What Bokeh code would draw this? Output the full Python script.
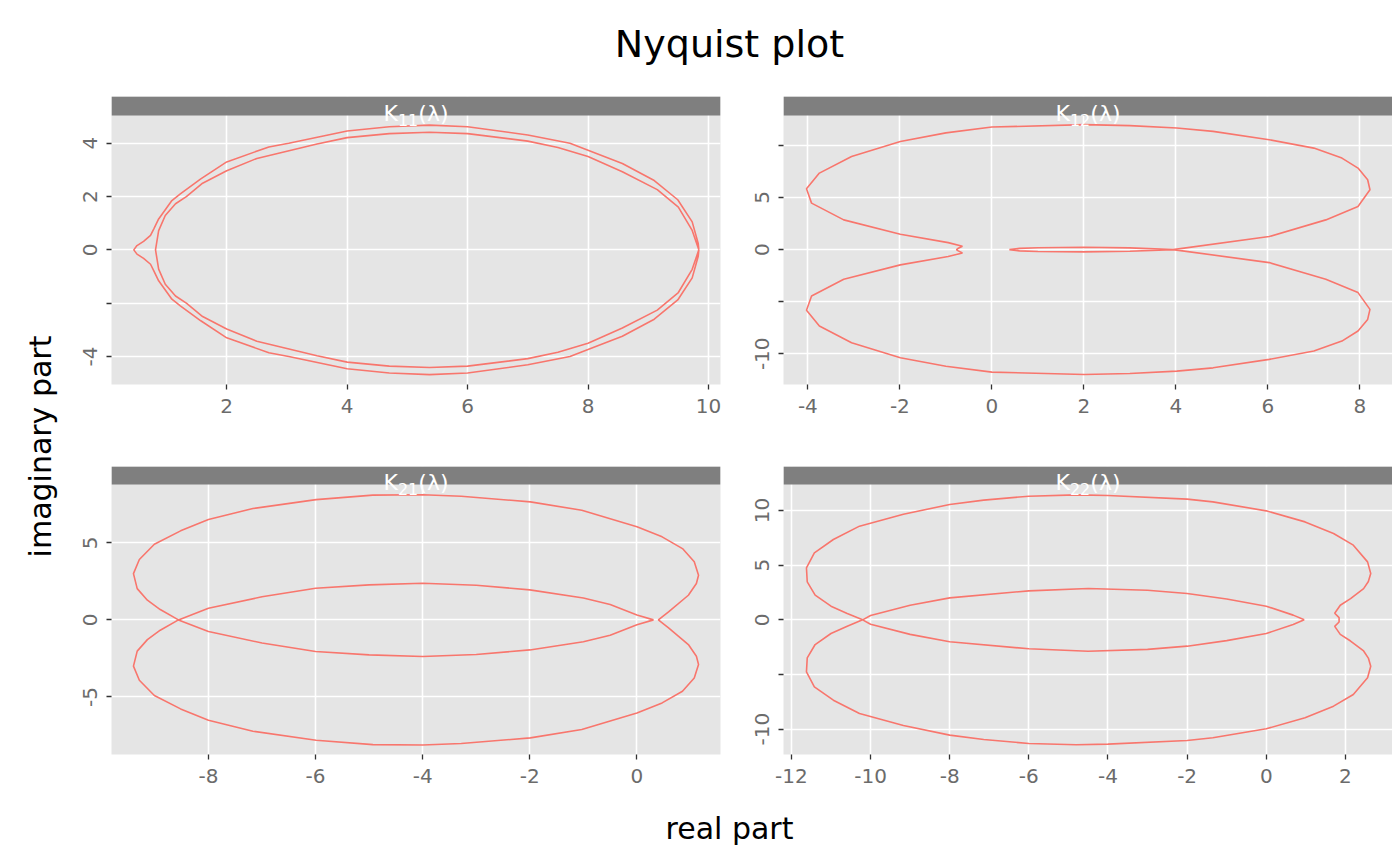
from bokeh.plotting import figure
from bokeh.layouts import column, row
from bokeh.models import Range1d, FixedTicker
from bokeh.core.properties import value
from bokeh.embed import file_html
from bokeh.resources import INLINE

TITLE = "Nyquist plot"
X_TITLE = "real part"
Y_TITLE = "imaginary part"
STRIP_LABELS = [("K", "11", "(\u03bb)"), ("K", "12", "(\u03bb)"), ("K", "21", "(\u03bb)"), ("K", "22", "(\u03bb)")]

# ---- K11 ----
re_11 = [9.84, 9.83, 9.73, 9.49, 9.10, 8.57, 8.00, 7.70, 7.00, 6.00, 5.37, 4.70, 4.00, 3.03, 2.70, 2.00, 1.57, 1.23, 1.09, 1.01, 0.87, 0.79, 0.735, 0.62, 0.51, 0.457,
         0.51, 0.62, 0.735, 0.79, 0.87, 1.01, 1.09, 1.23, 1.57, 2.00, 2.70, 3.03, 4.00, 4.70, 5.37, 6.00, 7.00, 7.70, 8.00, 8.57, 9.10, 9.49, 9.73, 9.83, 9.84,
         9.73, 9.50, 9.15, 8.57, 8.00, 7.50, 7.00, 6.00, 5.37, 4.70, 4.00, 3.50, 2.50, 2.00, 1.60, 1.33, 1.15, 0.98, 0.87, 0.818,
         0.87, 0.98, 1.15, 1.33, 1.60, 2.00, 2.50, 3.50, 4.00, 4.70, 5.37, 6.00, 7.00, 7.50, 8.00, 8.57, 9.15, 9.50, 9.73, 9.84]
im_11 = [0.00, 0.24, 1.05, 1.88, 2.60, 3.24, 3.74, 4.00, 4.31, 4.62, 4.68, 4.62, 4.46, 4.00, 3.86, 3.30, 2.66, 2.10, 1.85, 1.60, 1.16, 0.79, 0.54, 0.32, 0.16, 0.00,
         -0.16, -0.32, -0.54, -0.79, -1.16, -1.60, -1.85, -2.10, -2.66, -3.30, -3.86, -4.00, -4.46, -4.62, -4.68, -4.62, -4.31, -4.00, -3.74, -3.24, -2.60, -1.88, -1.05, -0.24, 0.00,
         -0.73, -1.60, -2.26, -2.93, -3.50, -3.84, -4.08, -4.36, -4.41, -4.36, -4.21, -3.97, -3.43, -2.97, -2.50, -2.00, -1.73, -1.29, -0.72, 0.00,
         0.72, 1.29, 1.73, 2.00, 2.50, 2.97, 3.43, 3.97, 4.21, 4.36, 4.41, 4.36, 4.08, 3.84, 3.50, 2.93, 2.26, 1.60, 0.73, 0.00]

# ---- K12 ----
re_12 = [0.38, 0.60, 1.00, 2.00, 3.00, 3.94,
         6.03, 7.26, 7.96, 8.22, 8.17, 7.96, 7.61, 7.00, 6.03, 4.81, 4.02, 3.00, 2.01, 0.00, -1.00, -1.99, -3.05, -3.75, -4.03, -3.92, -3.22, -1.99, -0.95, -0.64,
         -0.74, -0.77, -0.74,
         -0.64, -0.95, -1.99, -3.22, -3.92, -4.03, -3.75, -3.05, -1.99, -1.00, 0.00, 2.01, 3.00, 4.02, 4.81, 6.03, 7.00, 7.61, 7.96, 8.17, 8.22, 7.96, 7.26, 6.03,
         3.94, 3.00, 2.00, 1.00, 0.60, 0.38]
im_12 = [0.00, 0.12, 0.18, 0.22, 0.16, 0.00,
         -1.25, -2.85, -4.13, -5.74, -6.70, -7.82, -8.78, -9.74, -10.54, -11.35, -11.67, -11.90, -11.99, -11.76, -11.20, -10.38, -8.94, -7.34, -5.83, -4.46, -2.85, -1.47, -0.67, -0.32,
         -0.10, 0.00, 0.10,
         0.32, 0.67, 1.47, 2.85, 4.46, 5.83, 7.34, 8.94, 10.38, 11.20, 11.76, 11.99, 11.90, 11.67, 11.35, 10.54, 9.74, 8.78, 7.82, 6.70, 5.74, 4.13, 2.85, 1.25,
         0.00, -0.16, -0.22, -0.18, -0.12, 0.00]

# ---- K21 ----
re_21 = [0.31, 0.00, -0.50, -1.00, -2.00, -3.00, -4.00, -5.00, -6.00, -7.00, -8.00, -8.56,
         -8.90, -9.14, -9.33, -9.40, -9.29, -9.01, -8.52, -8.00, -7.17, -5.99, -4.93, -4.00, -3.28, -1.99, -1.03, 0.00, 0.47, 0.85, 1.07, 1.15, 1.11, 0.96, 0.59, 0.40,
         0.59, 0.96, 1.11, 1.15, 1.07, 0.85, 0.47, 0.00, -1.03, -1.99, -3.28, -4.00, -4.93, -5.99, -7.17, -8.00, -8.52, -9.01, -9.29, -9.40, -9.33, -9.14, -8.90, -8.56,
         -8.00, -7.00, -6.00, -5.00, -4.00, -3.00, -2.00, -1.00, -0.50, 0.00, 0.31]
im_21 = [0.00, 0.32, 1.00, 1.42, 1.95, 2.25, 2.38, 2.27, 2.05, 1.50, 0.76, 0.00,
         -0.67, -1.28, -2.03, -3.00, -3.92, -4.91, -5.78, -6.52, -7.23, -7.81, -8.10, -8.12, -8.03, -7.66, -7.12, -6.04, -5.39, -4.63, -3.77, -2.90, -2.36, -1.60, -0.52, 0.00,
         0.52, 1.60, 2.36, 2.90, 3.77, 4.63, 5.39, 6.04, 7.12, 7.66, 8.03, 8.12, 8.10, 7.81, 7.23, 6.52, 5.78, 4.91, 3.92, 3.00, 2.03, 1.28, 0.67, 0.00,
         -0.76, -1.50, -2.05, -2.27, -2.38, -2.25, -1.95, -1.42, -1.00, -0.32, 0.00]

# ---- K22 ----
re_22 = [0.96, 0.68, 0.00, -1.00, -2.00, -3.00, -4.50, -6.00, -8.00, -9.00, -10.00, -10.20,
         -10.59, -11.00, -11.40, -11.60, -11.62, -11.42, -10.94, -10.28, -9.17, -8.00, -7.14, -6.00, -4.80, -4.00, -2.00, -1.35, 0.00, 0.98, 1.70, 2.20, 2.56, 2.64, 2.58, 2.46, 2.13, 1.87, 1.73, 1.84,
         1.84, 1.73, 1.87, 2.13, 2.46, 2.58, 2.64, 2.56, 2.20, 1.70, 0.98, 0.00, -1.35, -2.00, -4.00, -4.80, -6.00, -7.14, -8.00, -9.17, -10.28, -10.94, -11.42, -11.62, -11.60, -11.40, -11.00, -10.59, -10.20,
         -10.00, -9.00, -8.00, -6.00, -4.50, -3.00, -2.00, -1.00, 0.00, 0.68, 0.96]
im_22 = [0.00, 0.43, 1.25, 1.90, 2.41, 2.70, 2.87, 2.65, 2.01, 1.33, 0.40, 0.00,
         -0.58, -1.25, -2.26, -3.48, -4.76, -6.13, -7.35, -8.57, -9.66, -10.55, -10.95, -11.31, -11.43, -11.37, -11.04, -10.79, -9.97, -8.96, -7.90, -6.83, -5.30, -4.24, -3.50, -2.85, -1.94, -1.33, -0.60, -0.20,
         0.20, 0.60, 1.33, 1.94, 2.85, 3.50, 4.24, 5.30, 6.83, 7.90, 8.96, 9.97, 10.79, 11.04, 11.37, 11.43, 11.31, 10.95, 10.55, 9.66, 8.57, 7.35, 6.13, 4.76, 3.48, 2.26, 1.25, 0.58, 0.00,
         -0.40, -1.33, -2.01, -2.65, -2.87, -2.70, -2.41, -1.90, -1.25, -0.43, 0.00]

# ---- ticks ----
xticks_11 = [2, 4, 6, 8, 10]
yticks_11 = [-4, -2, 0, 2, 4]
ylabels_11 = ["-4", "", "0", "2", "4"]
xticks_12 = [-4, -2, 0, 2, 4, 6, 8]
yticks_12 = [-10, -5, 0, 5, 10]
ylabels_12 = ["-10", "", "0", "5", ""]
xticks_21 = [-8, -6, -4, -2, 0]
yticks_21 = [-5, 0, 5]
ylabels_21 = ["-5", "0", "5"]
xticks_22 = [-12, -10, -8, -6, -4, -2, 0, 2]
yticks_22 = [-10, -5, 0, 5, 10]
ylabels_22 = ["-10", "", "0", "5", "10"]

# ---- styling ----
FONT = "DejaVu Sans"
LINE_COLOR = "#F8766D"
PANEL_BG = "#E5E5E5"
STRIP_BG = "#7F7F7F"
TICK_SIZE = "20px"
TICK_COLOR = "#6B6B6B"


def panel(re, im, xt, yt, ylab, label, xr, yr, strip_px, data_px,
          w, h, bl, br, bb):
    x0, x1 = xr
    y0, y1 = yr
    ppu = data_px / (y1 - y0)
    ytop = y1 + strip_px / ppu
    p = figure(width=w, height=h, x_range=Range1d(x0, x1), y_range=Range1d(y0, ytop),
               output_backend="svg", toolbar_location=None,
               min_border_left=bl, min_border_right=br, min_border_top=0, min_border_bottom=bb)
    p.title.visible = False
    p.background_fill_color = PANEL_BG
    p.border_fill_color = "white"
    p.outline_line_color = None
    for ax, ticks in ((p.xaxis[0], xt), (p.yaxis[0], yt)):
        ax.ticker = FixedTicker(ticks=ticks)
        ax.axis_line_color = None
        ax.major_tick_line_color = "#333333"
        ax.major_tick_line_width = 1.3
        ax.major_tick_out = 5
        ax.major_tick_in = 0
        ax.minor_tick_line_color = None
        ax.major_label_text_font = FONT
        ax.major_label_text_font_size = TICK_SIZE
        ax.major_label_text_color = TICK_COLOR
    p.xaxis[0].major_label_standoff = 9
    p.xaxis[0].major_label_overrides = {t: str(t) for t in xt}
    p.yaxis[0].major_label_overrides = {t: s for t, s in zip(yt, ylab)}
    p.yaxis[0].major_label_orientation = "vertical"
    p.yaxis[0].major_label_standoff = 9
    for g in (p.xgrid[0], p.ygrid[0]):
        g.grid_line_color = "white"
        g.grid_line_width = 1.6
        g.minor_grid_line_color = None
    p.line(re, im, line_color=LINE_COLOR, line_width=1.6)
    p.quad(left=[x0], right=[x1], bottom=[y1], top=[ytop],
           fill_color=STRIP_BG, line_color=None)
    # strip label: main symbol, subscript, argument
    main, sub, arg = label
    xc = (x0 + x1) / 2
    yb = y1 + 2 / ppu
    w_main, w_sub, w_arg = 14.4, 20.4, 30.2
    start = -(w_main + w_sub + w_arg) / 2
    common = dict(text_align="left", text_baseline="alphabetic", text_color="white",
                  text_font=value(FONT))
    p.text(x=[xc], y=[yb], text=[main], x_offset=start, text_font_size="22px", **common)
    p.text(x=[xc], y=[yb], text=[sub], x_offset=start + w_main, y_offset=6,
           text_font_size="16px", **common)
    p.text(x=[xc], y=[yb], text=[arg], x_offset=start + w_main + w_sub,
           text_font_size="22px", **common)
    return p


def text_fig(w, h, x, y, txt, size, angle=0.0):
    f = figure(width=w, height=h, x_range=Range1d(0, w), y_range=Range1d(0, h),
               output_backend="svg", toolbar_location=None, min_border=0,
               x_axis_location=None, y_axis_location=None)
    f.title.visible = False
    f.outline_line_color = None
    f.background_fill_color = "white"
    f.border_fill_color = "white"
    for g in f.grid:
        g.visible = False
    f.text(x=[x], y=[y], text=[txt], angle=angle, text_align="center",
           text_baseline="middle", text_color="black",
           text_font=value(FONT), text_font_size=size)
    return f


p11 = panel(re_11, im_11, xticks_11, yticks_11, ylabels_11, STRIP_LABELS[0],
            (0.087, 10.2), (-5.05, 5.04), 19, 269, 693, 370, 53, 31, 82)
p12 = panel(re_12, im_12, xticks_12, yticks_12, ylabels_12, STRIP_LABELS[1],
            (-4.53, 8.71), (-12.95, 12.87), 19, 269, 641, 370, 32, 0, 82)
p21 = panel(re_21, im_21, xticks_21, yticks_21, ylabels_21, STRIP_LABELS[2],
            (-9.81, 1.56), (-8.74, 8.79), 18, 270, 693, 332, 53, 31, 44)
p22 = panel(re_22, im_22, xticks_22, yticks_22, ylabels_22, STRIP_LABELS[3],
            (-12.2, 3.19), (-12.32, 12.38), 18, 270, 641, 332, 32, 0, 44)

title_fig = text_fig(1392, 96, 729, 53, TITLE, "38px")
ylab_fig = text_fig(58, 702, 40, 352, Y_TITLE, "30px", angle=1.5707963)
xlab_fig = text_fig(1392, 60, 729, 30, X_TITLE, "30px")

layout = column(title_fig,
                row(ylab_fig, column(row(p11, p12), row(p21, p22))),
                xlab_fig)

open("out.html", "w").write(file_html(layout, INLINE))
